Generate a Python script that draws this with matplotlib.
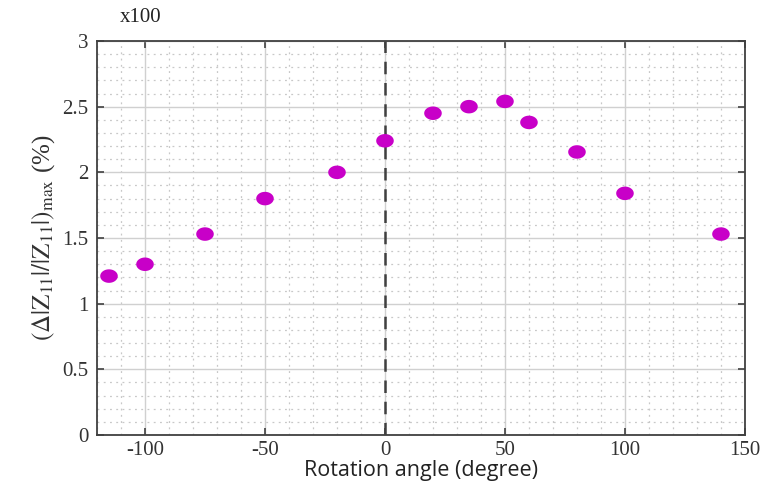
import numpy as np
import matplotlib
matplotlib.use("Agg")
import matplotlib.pyplot as plt
from matplotlib.ticker import MultipleLocator

angles = [-115, -100, -75, -50, -20, 0, 20, 35, 50, 60, 80, 100, 140]
values = [1.21, 1.30, 1.53, 1.80, 2.00, 2.24, 2.45, 2.50, 2.54, 2.38, 2.155, 1.84, 1.53]
xticks = [-100, -50, 0, 50, 100, 150]
yticks = [0, 0.5, 1, 1.5, 2, 2.5, 3]
ytick_labels = ["0", "0.5", "1", "1.5", "2", "2.5", "3"]

plt.rcParams['mathtext.fontset'] = 'stix'
plt.rcParams['axes.unicode_minus'] = False

fig = plt.figure(figsize=(7.68, 4.95), dpi=100)
ax = fig.add_axes([0.1263, 0.1212, 0.8437, 0.796])

ax.set_xlim(-120, 150)
ax.set_ylim(0, 3)
ax.set_xticks(xticks)
ax.set_yticks(yticks)
ax.set_yticklabels(ytick_labels)
ax.xaxis.set_minor_locator(MultipleLocator(10))
ax.yaxis.set_minor_locator(MultipleLocator(0.1))

ax.grid(which='major', color='#d0d0d0', lw=1.0, ls='-')
ax.grid(which='minor', color='#c8c8c8', lw=0.9, ls=(0, (1.5, 3.5)))
ax.set_axisbelow(True)

ax.axvline(0, color='#404040', lw=1.8, ls=(0, (5, 3.5)), zorder=2)

t = np.linspace(0, 2 * np.pi, 60)
ell = list(zip(1.3 * np.cos(t), np.sin(t)))
ax.scatter(angles, values, marker=ell, s=160, color='#c800c8', edgecolors='none', zorder=3)

for sp in ax.spines.values():
    sp.set_color('#404040')
    sp.set_linewidth(1.3)
ax.tick_params(which='major', direction='in', length=5, width=1.2, color='#404040',
               top=True, right=True, labelsize=15, pad=6)
ax.tick_params(axis='x', which='major', pad=4)
ax.tick_params(which='minor', length=0)
for lab in ax.get_xticklabels() + ax.get_yticklabels():
    lab.set_family('Liberation Serif')
    lab.set_color('#333333')

ax.set_xlabel('Rotation angle (degree)', family='Open Sans', fontsize=15.5, color='#222222', labelpad=0)
ax.set_ylabel(r'$(\Delta|\mathrm{Z}_{11}|/|\mathrm{Z}_{11}|)_{\mathrm{max}}$ (%)', family='Liberation Serif',
              fontsize=18, color='#333333', labelpad=4)
fig.text(0.183, 0.965, 'x100', family='Liberation Serif', fontsize=15, color='#222222',
         ha='center', va='center')

fig.savefig('out.png', dpi=100, facecolor='white')
